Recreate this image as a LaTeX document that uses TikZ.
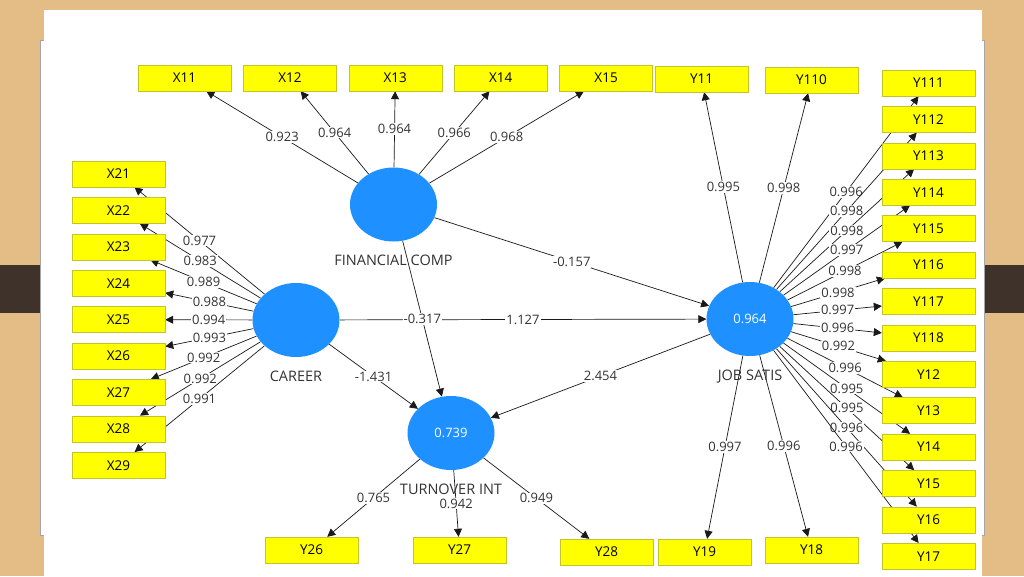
\documentclass[tikz,border=0pt]{standalone}
\usepackage{fontspec}
\setmainfont{Open Sans}
\usetikzlibrary{positioning, arrows.meta, backgrounds, shapes.geometric}
\definecolor{wood}{HTML}{E4BD86}
\definecolor{band}{HTML}{3E322A}
\definecolor{lvBlue}{HTML}{1E90FF}
\definecolor{indYellow}{HTML}{FFFF00}
\definecolor{indBorder}{HTML}{C4C42A}
\definecolor{txtGray}{HTML}{333333}

\begin{document}
\begin{tikzpicture}[x=1pt,y=-1pt,node distance=10pt and 12pt]
    \tikzset{ind/.style={draw=indBorder,fill=indYellow,minimum width=93pt,minimum height=26pt,inner sep=0pt,font=\fontsize{13.5}{15}\selectfont}, lv/.style={ellipse,fill=lvBlue,minimum width=87pt,minimum height=74pt,inner sep=0pt,text=white,font=\fontsize{13}{15}\selectfont}, lvname/.style={inner sep=0pt,text height=10pt,text depth=0pt,text=txtGray,font=\fontsize{14.5}{16}\selectfont}, arr/.style={-{Triangle[length=8pt,width=8pt]},line width=0.7pt,draw=black!90}, wt/.style={fill=white,inner sep=1pt,text=txtGray,font=\fontsize{13}{15}\selectfont}}
    \useasboundingbox (0,0) rectangle (1024,576);
    % latent variables
    \node[lv] (fc) at (393.5,204.5) {};
    \node[lv] (career) at (296,320) {};
    \node[lv] (job) at (750,319) {0.964};
    \node[lv] (ti) at (451,433) {0.739};
    \node[lvname,below=14pt of fc] (fcname) {FINANCIAL COMP};
    \node[lvname,below=14pt of career] (careername) {CAREER};
    \node[lvname,below=14pt of job] (jobname) {JOB SATIS};
    \node[lvname,below=14pt of ti] (tiname) {TURNOVER INT};
    % indicators, top row
    \node[ind] (x11) at (184.5,78) {X11};
    \node[ind,right=of x11] (x12) {X12};
    \node[ind,right=of x12] (x13) {X13};
    \node[ind,right=of x13] (x14) {X14};
    \node[ind,right=of x14] (x15) {X15};
    \node[ind] (y11) at (701.5,79) {Y11};
    \node[ind] (y110) at (811.5,80) {Y110};
    % left column
    \node[ind] (x21) at (118.5,174) {X21};
    \node[ind,below=of x21] (x22) {X22};
    \node[ind,below=of x22] (x23) {X23};
    \node[ind,below=of x23] (x24) {X24};
    \node[ind,below=of x24] (x25) {X25};
    \node[ind,below=of x25] (x26) {X26};
    \node[ind,below=of x26] (x27) {X27};
    \node[ind,below=of x27] (x28) {X28};
    \node[ind,below=of x28] (x29) {X29};
    % right column
    \node[ind] (y111) at (928.5,83) {Y111};
    \node[ind,below=of y111] (y112) {Y112};
    \node[ind,below=of y112] (y113) {Y113};
    \node[ind,below=of y113] (y114) {Y114};
    \node[ind,below=of y114] (y115) {Y115};
    \node[ind,below=of y115] (y116) {Y116};
    \node[ind,below=of y116] (y117) {Y117};
    \node[ind,below=of y117] (y118) {Y118};
    \node[ind,below=of y118] (y12) {Y12};
    \node[ind,below=of y12] (y13) {Y13};
    \node[ind,below=of y13] (y14) {Y14};
    \node[ind,below=of y14] (y15) {Y15};
    \node[ind,below=of y15] (y16) {Y16};
    \node[ind,below=of y16] (y17) {Y17};
    % bottom row
    \node[ind] (y26) at (311.5,550) {Y26};
    \node[ind] (y27) at (459.5,550) {Y27};
    \node[ind] (y28) at (606.5,552) {Y28};
    \node[ind] (y19) at (704.5,552) {Y19};
    \node[ind] (y18) at (811.5,550) {Y18};
    \begin{scope}[on background layer]
      % slide behind the model
      \fill[wood] (0,0) rectangle (1024,576);
      \fill[band] (0,265) rectangle (1024,313);
      \filldraw[fill=white,draw=black!35,line width=0.5pt] (40,40) rectangle (984,535);
      \fill[white] (44,10) rectangle (982,576);
      % outer loadings
      \draw[arr] (fc) -- node[wt]{0.923} (x11); \draw[arr] (fc) -- node[wt]{0.964} (x12); \draw[arr] (fc) -- node[wt]{0.964} (x13); \draw[arr] (fc) -- node[wt]{0.966} (x14); \draw[arr] (fc) -- node[wt]{0.968} (x15);
      \draw[arr] (career) -- node[wt]{0.977} (x21); \draw[arr] (career) -- node[wt]{0.983} (x22); \draw[arr] (career) -- node[wt]{0.989} (x23); \draw[arr] (career) -- node[wt]{0.988} (x24); \draw[arr] (career) -- node[wt]{0.994} (x25);
      \draw[arr] (career) -- node[wt]{0.993} (x26); \draw[arr] (career) -- node[wt]{0.992} (x27); \draw[arr] (career) -- node[wt]{0.992} (x28); \draw[arr] (career) -- node[wt]{0.991} (x29);
      \draw[arr] (job) -- node[wt]{0.995} (y11); \draw[arr] (job) -- node[wt]{0.998} (y110); \draw[arr] (job) -- node[wt]{0.997} (y19); \draw[arr] (job) -- node[wt]{0.996} (y18);
      \draw[arr] (job) -- node[wt]{0.996} (y111); \draw[arr] (job) -- node[wt]{0.998} (y112); \draw[arr] (job) -- node[wt]{0.998} (y113); \draw[arr] (job) -- node[wt]{0.997} (y114); \draw[arr] (job) -- node[wt]{0.998} (y115);
      \draw[arr] (job) -- node[wt]{0.998} (y116); \draw[arr] (job) -- node[wt]{0.997} (y117); \draw[arr] (job) -- node[wt]{0.996} (y118); \draw[arr] (job) -- node[wt]{0.992} (y12); \draw[arr] (job) -- node[wt]{0.996} (y13);
      \draw[arr] (job) -- node[wt]{0.995} (y14); \draw[arr] (job) -- node[wt]{0.995} (y15); \draw[arr] (job) -- node[wt]{0.996} (y16); \draw[arr] (job) -- node[wt]{0.996} (y17);
      \draw[arr] (ti) -- node[wt]{0.765} (y26); \draw[arr] (ti) -- node[wt]{0.942} (y27); \draw[arr] (ti) -- node[wt]{0.949} (y28);
      % inner model
      \draw[arr] (career) -- node[wt]{1.127} (job); \draw[arr] (fc) -- node[wt]{-0.157} (job); \draw[arr] (fc) -- node[wt]{-0.317} (ti); \draw[arr] (career) -- node[wt]{-1.431} (ti); \draw[arr] (job) -- node[wt]{2.454} (ti);
    \end{scope}
\end{tikzpicture}
\end{document}
